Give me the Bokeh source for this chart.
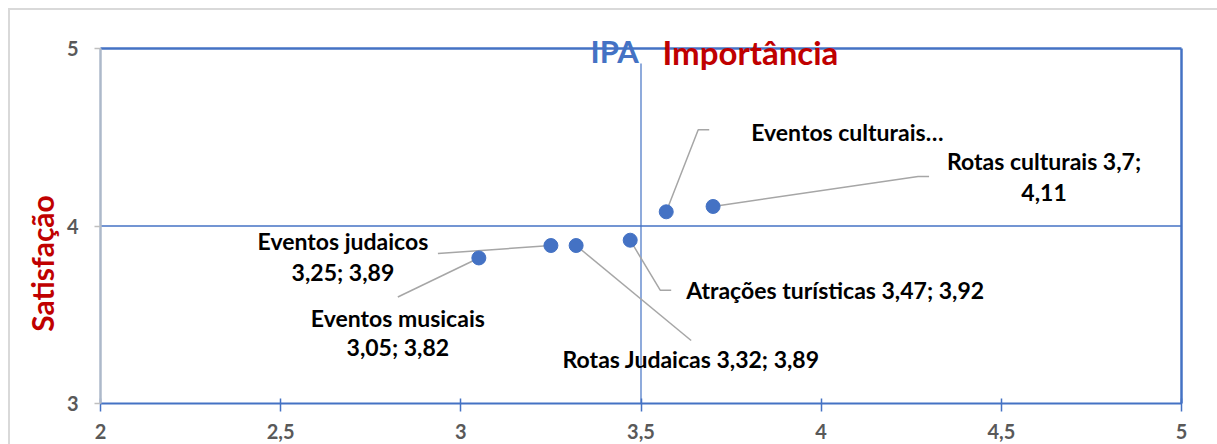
import math
from bokeh.plotting import figure
from bokeh.models import Range1d, Label, LinearAxis, BoxAnnotation
from bokeh.embed import file_html
from bokeh.resources import INLINE
from bokeh.core.properties import value

# ---------------- data ----------------
names = ["Eventos culturais", "Rotas culturais", "Atrações turísticas",
         "Rotas Judaicas", "Eventos judaicos", "Eventos musicais"]
importancia = [3.57, 3.70, 3.47, 3.32, 3.25, 3.05]
satisfacao = [4.08, 4.11, 3.92, 3.89, 3.89, 3.82]
point_labels = ["Eventos culturais…",
                "Rotas culturais 3,7;\n4,11",
                "Atrações turísticas 3,47; 3,92",
                "Rotas Judaicas 3,32; 3,89",
                "Eventos judaicos\n3,25; 3,89",
                "Eventos musicais\n3,05; 3,82"]
x_ticks = [2, 2.5, 3, 3.5, 4, 4.5, 5]
x_tick_labels = ["2", "2,5", "3", "3,5", "4", "4,5", "5"]
y_ticks = [3, 4, 5]
y_tick_labels = ["3", "4", "5"]
x_cross = 3.5
y_cross = 4
title_left = "IPA"
title_right = "Importância"
y_title = "Satisfação"

# ---------------- layout / style ----------------
BLUE = "#4472c4"
RED = "#c00000"
GRAY_TXT = "#595959"
LEADER = "#a6a6a6"
FONT = "Lato"

W, H = 1209, 436            # figure size (placed at page offset 8,8)
ML, MR, MT, MB = 92, 36, 40, 41   # distance of the value box from figure edges
X0, X1, Y0, Y1 = 2, 5, 3, 5
px_x = (W - ML - MR) / (X1 - X0)
px_y = (H - MT - MB) / (Y1 - Y0)


def fig_to_data(fx, fy):
    """figure pixel position -> data position"""
    return X0 + (fx - ML) / px_x, Y1 - (fy - MT) / px_y


# leader-line paths and text anchors in pixel offsets from each point (y down)
leader_px = [
    [(0, 0), (32, -82), (43, -82)],
    [(0, 0), (205, -30), (216, -30)],
    [(0, 0), (30, 50), (41, 50)],
    [(0, 0), (115, 95)],
    [(0, 0), (-113, 8)],
    [(0, 0), (-81, 39)],
]
text_px = [(85, -80), (331, -45), (56, 50), (115, 113), (-208, -5), (-81, 60)]
text_align = ["left", "center", "left", "center", "center", "center"]
line_step = [30, 31, 30, 30, 31, 29]

p = figure(width=W, height=H,
           x_range=Range1d(X0 - ML / px_x, X1 + MR / px_x),
           y_range=Range1d(Y0 - MB / px_y, Y1 + MT / px_y),
           output_backend="svg", toolbar_location=None, title=None,
           x_axis_type=None, y_axis_type=None,
           min_border=0)
p.outline_line_color = None
p.background_fill_color = None
p.border_fill_color = None
p.styles = {"margin-left": "8px", "margin-top": "8px",
            "box-shadow": "inset 2px 2px 0 #d9d9d9"}

# axes pinned at x=2 and y=3
xaxis = LinearAxis(fixed_location=Y0, bounds=(X0, X1), ticker=x_ticks,
                   major_label_overrides={t: l for t, l in zip(x_ticks, x_tick_labels)})
xaxis.axis_line_color = BLUE
xaxis.axis_line_width = 2
xaxis.major_tick_line_color = BLUE
xaxis.major_tick_line_width = 1.5
xaxis.major_tick_in = 5
xaxis.major_tick_out = 8
xaxis.minor_tick_line_color = None
xaxis.major_label_standoff = 12

yaxis = LinearAxis(fixed_location=X0, bounds=(Y0, Y1), ticker=y_ticks,
                   major_label_overrides={t: l for t, l in zip(y_ticks, y_tick_labels)})
yaxis.axis_line_color = "#adb9ca"
yaxis.axis_line_width = 2.5
yaxis.major_tick_line_color = "#bfbfbf"
yaxis.major_tick_line_width = 1.5
yaxis.major_tick_in = 0
yaxis.major_tick_out = 6
yaxis.minor_tick_line_color = None
yaxis.major_label_standoff = 16

for ax in (xaxis, yaxis):
    ax.major_label_text_font = FONT
    ax.major_label_text_font_style = "bold"
    ax.major_label_text_font_size = "20px"
    ax.major_label_text_color = GRAY_TXT

p.add_layout(xaxis, "below")
p.add_layout(yaxis, "left")

# vertical grid lines, limited to the value box
p.xgrid.ticker = [t for t in x_ticks if t not in (X0, X1)]
p.xgrid.grid_line_color = "#e6e6e6"
p.xgrid.grid_line_width = 1
p.ygrid.grid_line_color = None
p.add_layout(BoxAnnotation(left=X0 + 0.1, right=X1 - 0.1, bottom=Y1,
                           top=Y1 + (MT - 3) / px_y, fill_color="white",
                           fill_alpha=1, line_color=None, level="underlay"))
p.add_layout(BoxAnnotation(left=X0 + 0.1, right=X1 - 0.1, top=Y0,
                           fill_color="white", fill_alpha=1, line_color=None,
                           level="underlay"))

# frame lines (top / right) and crosshair
p.segment(x0=[X0, X1, X0], y0=[Y1, Y0, y_cross], x1=[X1, X1, X1], y1=[Y1, Y1, y_cross],
          line_color=BLUE, line_width=[2.5, 2.5, 1.5])
p.segment(x0=[x_cross], y0=[Y0], x1=[x_cross], y1=[Y1 - 15 / px_y],
          line_color=BLUE, line_width=1.2)

# leader lines
for xi, yi, path in zip(importancia, satisfacao, leader_px):
    xs = [xi + dx / px_x for dx, dy in path]
    ys = [yi - dy / px_y for dx, dy in path]
    p.line(xs, ys, line_color=LEADER, line_width=1.5)

# points
p.scatter(importancia, satisfacao, size=14, color=BLUE, line_color=BLUE)

# data labels
for xi, yi, txt, (dx, dy), al, st in zip(importancia, satisfacao, point_labels,
                                         text_px, text_align, line_step):
    for k, line in enumerate(txt.split("\n")):
        p.text(x=[xi], y=[yi], text=[line], x_offset=dx, y_offset=dy + k * st,
               text_align=al, text_baseline="middle",
               text_font=value(FONT), text_font_style="bold",
               text_font_size="23px", text_color="black")

# titles
tx, ty = fig_to_data(582, 42)
p.add_layout(Label(x=tx, y=ty, text=title_left,
                   text_font=FONT, text_font_style="bold", text_font_size="31px",
                   text_color=BLUE, text_align="left", text_baseline="middle"))
tx, ty = fig_to_data(654, 43)
p.add_layout(Label(x=tx, y=ty, text=title_right,
                   text_font=FONT, text_font_style="bold", text_font_size="33px",
                   text_color=RED, text_align="left", text_baseline="middle"))
tx, ty = fig_to_data(33, 255)
p.add_layout(Label(x=tx, y=ty, text=y_title,
                   angle=math.pi / 2, text_font=FONT, text_font_style="bold",
                   text_font_size="30px", text_color=RED,
                   text_align="center", text_baseline="middle"))

open("out.html", "w").write(file_html(p, INLINE))
